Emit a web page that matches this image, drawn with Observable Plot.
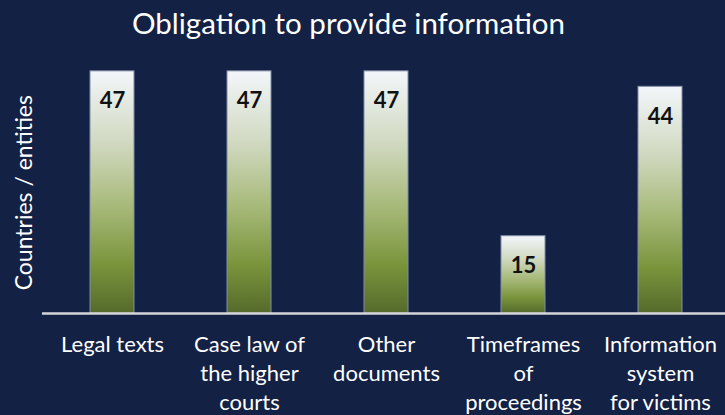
<!DOCTYPE html>
<html>
<head>
<meta charset="utf-8">
<script src="https://cdn.jsdelivr.net/npm/d3@7"></script>
<script src="https://cdn.jsdelivr.net/npm/@observablehq/plot@0.6"></script>
<style>
  html, body { margin: 0; padding: 0; background: #132145; }
  #wrap { width: 725px; height: 415px; overflow: hidden; background: #132145; font-family: Lato, "Open Sans", sans-serif; }
  #title { height: 48px; line-height: 46px; text-align: center; color: #ffffff; font-size: 29.5px; padding-right: 28px; white-space: nowrap; }
</style>
</head>
<body>
<div id="wrap">
  <div id="title">Obligation to provide information</div>
  <div id="chart"></div>
</div>
<script>
const categories = ["Legal texts", "Case law of the higher courts", "Other documents", "Timeframes of proceedings", "Information system for victims"];
const tickLabels = ["Legal texts", "Case law of\nthe higher\ncourts", "Other\ndocuments", "Timeframes\nof\nproceedings", "Information\nsystem\nfor victims"];
const values = [47, 47, 47, 15, 44];
const yLabel = "Countries / entities";

const data = categories.map((c, i) => ({category: c, value: values[i]}));
const labelOf = new Map(categories.map((c, i) => [c, tickLabels[i]]));

const plot = Plot.plot({
  width: 725,
  height: 367,
  marginTop: 7.4,
  marginBottom: 102,
  marginLeft: 42,
  marginRight: 0,
  style: {background: "#132145", color: "#ffffff", fontFamily: "Lato, 'Open Sans', sans-serif"},
  x: {domain: categories, range: [42, 730], paddingInner: 0.68, paddingOuter: 0.34, axis: null},
  y: {domain: [0, 50], axis: null},
  marks: [
    Plot.barY(data, {x: "category", y: "value", fill: "url(#barGrad)", stroke: "#7f8ea6", strokeWidth: 1}),
    Plot.text(data, {x: "category", y: "value", text: d => String(d.value), dy: 30, fontSize: 22, fontWeight: "bold", fill: "#111111"}),
    Plot.ruleY([0], {stroke: "#d4d6da", strokeWidth: 2.5}),
    Plot.axisX({domain: categories, label: null, tickSize: 0, tickPadding: 18.5, fontSize: 22, lineHeight: 1.3, fill: "#ffffff", tickFormat: d => labelOf.get(d)}),
    Plot.text([yLabel], {frameAnchor: "left", text: d => d, textAnchor: "middle", rotate: -90, dx: -18, dy: 8, fontSize: 23, fill: "#ffffff"})
  ]
});

const svg = d3.select(plot);
const defs = svg.insert("defs", ":first-child");
const g = defs.append("linearGradient").attr("id", "barGrad").attr("x1", 0).attr("y1", 0).attr("x2", 0).attr("y2", 1);
[["0%", "#f3f6fa"], ["30%", "#d0d9c0"], ["55%", "#a9bb7c"], ["80%", "#7a943c"], ["100%", "#556a2b"]]
  .forEach(([o, c]) => g.append("stop").attr("offset", o).attr("stop-color", c));

document.getElementById("chart").appendChild(plot);
</script>
</body>
</html>
